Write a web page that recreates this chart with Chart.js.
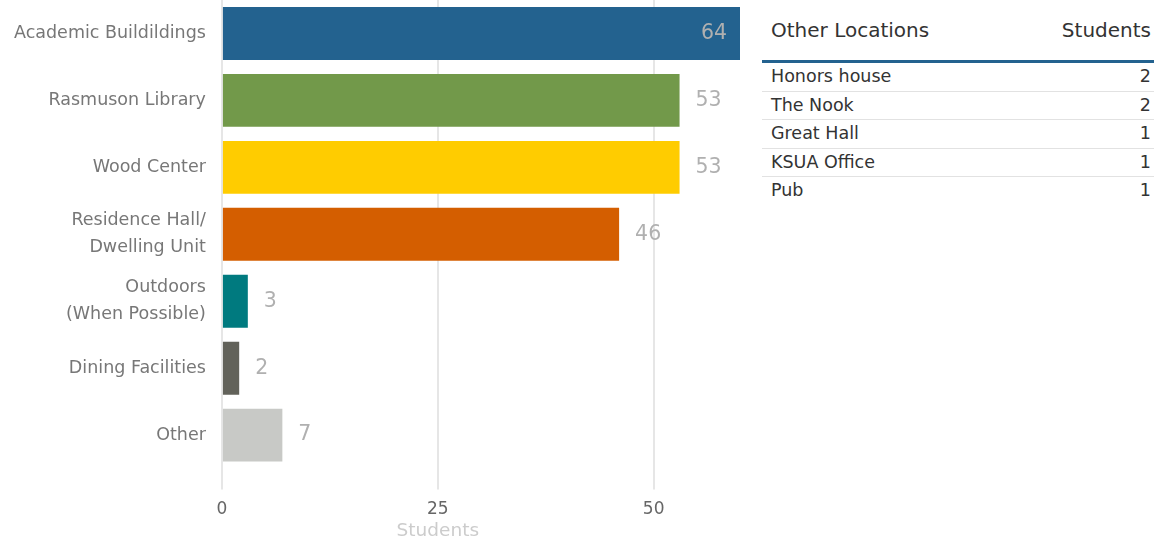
<!DOCTYPE html>
<html>
<head>
<meta charset="utf-8">
<script src="https://cdn.jsdelivr.net/npm/chart.js@4.4.0/dist/chart.umd.min.js"></script>
<style>
  body { margin: 0; background: #fff; font-family: "DejaVu Sans", Tahoma, sans-serif; }
  #wrap { position: absolute; left: 0; top: 0; width: 747px; height: 544px; }
  #others { position: absolute; left: 762px; top: 12px; width: 392px; border-collapse: collapse; font-size: 17.5px; color: #333; }
  #others th { font-weight: normal; text-align: left; padding: 6px 8px 18px 9px; line-height: 24px; border-bottom: 3px solid #23628f; font-size: 20px; }
  #others td { padding: 3px 8px 3px 9px; border-bottom: 1px solid #e2e2e2; line-height: 21.5px; }
  #others .num { text-align: right; padding-right: 3px; }
  #others tr:last-child td { border-bottom: none; }
</style>
</head>
<body>
<div id="wrap"><canvas id="myChart"></canvas></div>
<table id="others">
  <thead><tr><th>Other Locations</th><th class="num">Students</th></tr></thead>
  <tbody id="otherRows"></tbody>
</table>
<script>
var places = [
  'Academic Buildildings',
  'Rasmuson Library',
  'Wood Center',
  ['Residence Hall/', 'Dwelling Unit'],
  ['Outdoors', '(When Possible)'],
  'Dining Facilities',
  'Other'
];
var students = [64, 53, 53, 46, 3, 2, 7];
var barColors = ['#23628f', '#72994a', '#ffcc00', '#d45e00', '#007a7f', '#62625a', '#c8c9c6'];
var xTicks = [0, 25, 50];

var otherPlaces = ['Honors house', 'The Nook', 'Great Hall', 'KSUA Office', 'Pub'];
var otherStudents = [2, 2, 1, 1, 1];

// table on the right
var tbody = document.getElementById('otherRows');
for (var i = 0; i < otherPlaces.length; i++) {
  var tr = document.createElement('tr');
  tr.innerHTML = '<td>' + otherPlaces[i] + '</td><td class="num">' + otherStudents[i] + '</td>';
  tbody.appendChild(tr);
}

// value labels next to the bars (inside when the bar runs off the axis)
var valueLabels = {
  id: 'valueLabels',
  afterDatasetsDraw: function(chart) {
    var ctx = chart.ctx, area = chart.chartArea;
    var meta = chart.getDatasetMeta(0);
    ctx.save();
    ctx.font = '20.5px "DejaVu Sans"';
    ctx.fillStyle = '#b0b0b0';
    ctx.textBaseline = 'middle';
    meta.data.forEach(function(bar, i) {
      var v = students[i];
      if (bar.x > area.right) {
        ctx.textAlign = 'right';
        ctx.fillText(v, area.right - 13, bar.y);
      } else {
        ctx.textAlign = 'left';
        ctx.fillText(v, bar.x + 16, bar.y);
      }
    });
    ctx.restore();
  }
};

// axis title sits under the 25 tick in the original
var axisTitle = {
  id: 'axisTitle',
  afterDraw: function(chart) {
    var ctx = chart.ctx, xs = chart.scales.x;
    ctx.save();
    ctx.font = '18.5px "DejaVu Sans"';
    ctx.fillStyle = '#cccccc';
    ctx.textAlign = 'center';
    ctx.textBaseline = 'middle';
    ctx.fillText('Students', xs.getPixelForValue(25), 531);
    ctx.restore();
  }
};

var ctx = document.getElementById('myChart').getContext('2d');
var myChart = new Chart(ctx, {
  type: 'bar',
  data: {
    labels: places,
    datasets: [{
      label: 'Students',
      data: students,
      backgroundColor: barColors,
      barPercentage: 0.79,
      categoryPercentage: 1
    }]
  },
  options: {
    indexAxis: 'y',
    responsive: true,
    maintainAspectRatio: false,
    animation: false,
    layout: { padding: { top: 0, bottom: 14, left: 14, right: 7 } },
    plugins: { legend: { display: false }, tooltip: { enabled: false } },
    scales: {
      x: {
        min: 0,
        max: 60,
        afterBuildTicks: function(scale) {
          scale.ticks = xTicks.map(function(v) { return { value: v }; });
        },
        grid: { color: '#e6e6e6', lineWidth: 2, tickLength: 21, tickColor: '#e6e6e6' },
        border: { display: false },
        ticks: { color: '#666', font: { family: 'DejaVu Sans', size: 17 }, padding: 10 }
      },
      y: {
        afterFit: function(scale) {
          scale.paddingTop = 0;
          scale.paddingBottom = 0;
        },
        grid: { display: true, drawOnChartArea: false, drawTicks: true, tickLength: 16, tickColor: 'rgba(0,0,0,0)' },
        border: { display: false },
        ticks: { color: '#777', font: { family: 'DejaVu Sans', size: 17.5, lineHeight: 1.55 }, padding: 0 }
      }
    }
  },
  plugins: [valueLabels, axisTitle]
});
</script>
</body>
</html>
